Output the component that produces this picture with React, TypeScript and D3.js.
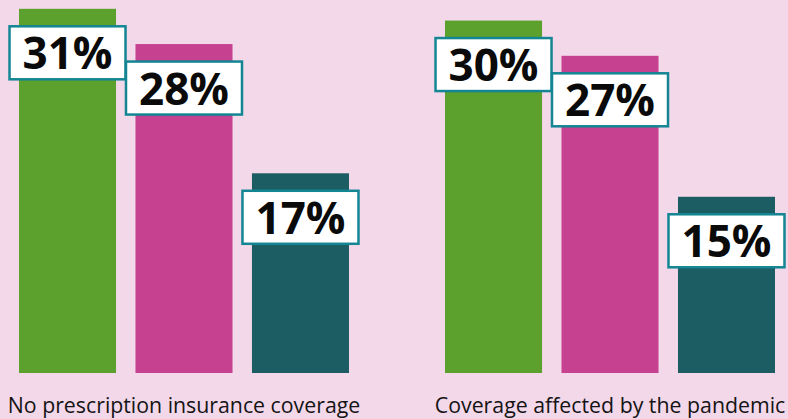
import React, { useEffect } from 'react';
import * as d3 from 'd3';

// chart values
const categories = ['No prescription insurance coverage', 'Coverage affected by the pandemic'];
const seriesNames = ['Group A', 'Group B', 'Group C'];
const groupAValues = [31, 30];
const groupBValues = [28, 27];
const groupCValues = [17, 15];

const colors = ['#5ca02e', '#c64290', '#1c5c63'];

const W = 788;
const H = 419;
const baseY = 373;

export default function App() {
	useEffect(() => {
		document.body.style.margin = '0';
	}, []);

	const series = [groupAValues, groupBValues, groupCValues];

	const x0 = d3.scaleBand<string>().domain(categories).range([19, 775]).paddingInner(0.2254);
	const x1 = d3.scaleBand<string>().domain(seriesNames).range([0, x0.bandwidth()]).paddingInner(0.167);
	const y = d3.scaleLinear().domain([0, 31.75]).range([baseY, 0]);

	const boxW = 116;
	const boxH = 53;

	return (
		<svg width={W} height={H} style={{ display: 'block', background: '#f3d8ea' }}>
			<rect width={W} height={H} fill='#f3d8ea' />
			{categories.map((cat, ci) => (
				<g key={cat} transform={`translate(${x0(cat)},0)`}>
					{seriesNames.map((s, si) => {
						const v = series[si][ci];
						const bx = x1(s)!;
						const bw = x1.bandwidth();
						const top = y(v);
						return (
							<rect key={s} x={bx} y={top} width={bw} height={baseY - top} fill={colors[si]} />
						);
					})}
					{seriesNames.map((s, si) => {
						const v = series[si][ci];
						const cx = x1(s)! + x1.bandwidth() / 2;
						const top = y(v) + 17.5;
						return (
							<g key={s + '-lab'}>
								<rect
									x={cx - boxW / 2}
									y={top}
									width={boxW}
									height={boxH}
									fill='#ffffff'
									stroke='#138593'
									strokeWidth={2.5}
								/>
								<text
									x={cx}
									y={top + 43}
									textAnchor='middle'
									fontFamily='"Open Sans", sans-serif'
									fontWeight={700}
									fontSize={44}
									fill='#0a0a0a'>
									{v}%
								</text>
							</g>
						);
					})}
					<text
						x={x0.bandwidth() / 2}
						y={413}
						textAnchor='middle'
						fontFamily='"Open Sans", sans-serif'
						fontSize={21.3}
						fill='#141414'>
						{cat}
					</text>
				</g>
			))}
		</svg>
	);
}
